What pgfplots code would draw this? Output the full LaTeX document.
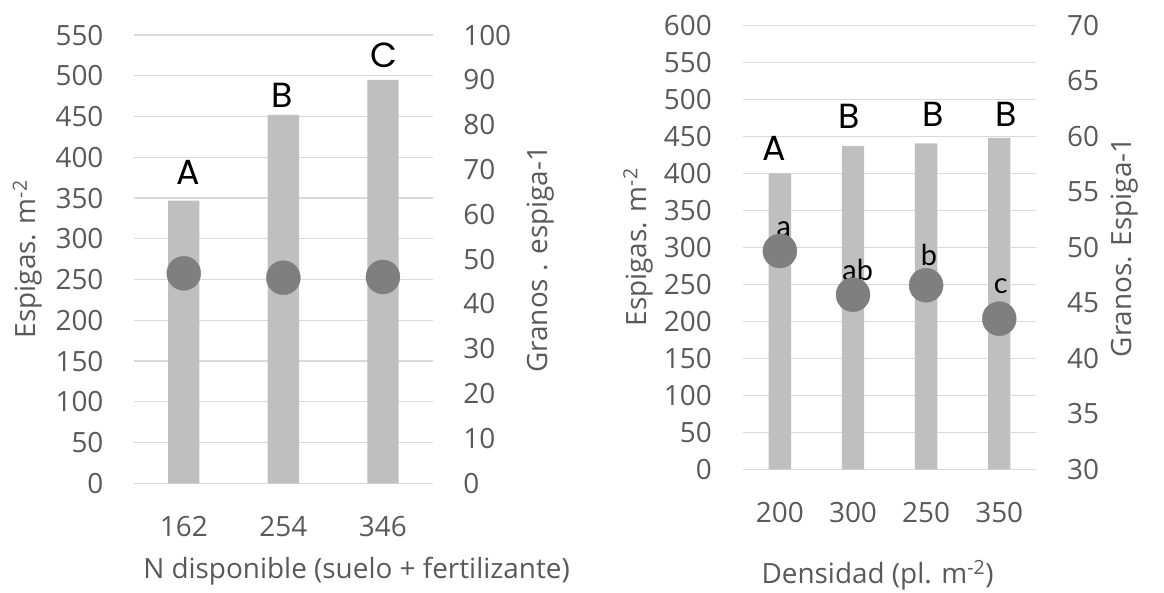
\documentclass[border=0pt]{standalone}
\usepackage{pgfplots}
\pgfplotsset{compat=1.18}
\usepackage{fontspec}
\setmainfont{Open Sans}
\newfontfamily\letf{Poppins}
\newfontfamily\lowf{Lato}
\definecolor{barc}{HTML}{BFBFBF}
\definecolor{dotc}{HTML}{7F7F7F}
\definecolor{gridc}{HTML}{D9D9D9}
\definecolor{txt}{HTML}{595959}
\tikzset{
  upl/.style={font=\letf\fontsize{35}{40}\selectfont, inner sep=0pt, anchor=center},
  lowl/.style={font=\lowf\fontsize{29}{34}\selectfont, inner sep=0pt, anchor=center},
}
\pgfplotsset{
  base/.style={
    scale only axis, anchor=south west, clip=false,
    axis line style={draw=none}, major tick length=0pt,
    tick label style={font=\fontsize{28}{34}\selectfont, text=txt, inner sep=0pt},
    label style={font=\fontsize{28}{34}\selectfont, text=txt},
    /pgf/number format/assume math mode=true,
    /pgf/number format/1000 sep={},
  },
  leftax/.style={base,
    axis y line*=left, axis x line*=bottom,
    ymajorgrids, major grid style={draw=gridc, line width=1.3bp},
  },
  rightax/.style={base,
    axis y line*=right, hide x axis,
  },
}
\begin{document}
\begin{tikzpicture}
\useasboundingbox (0,0) rectangle (1164bp,593bp);
% ---------- Left panel ----------
\begin{axis}[leftax, at={(134bp,109.7bp)}, width=298.7bp, height=448.2bp,
  xmin=-0.5, xmax=2.5, ymin=0, ymax=550, ytick distance=50,
  xtick={0,1,2}, xticklabels={162,254,346},
  yticklabel style={anchor=east, xshift=-30.4bp},
  xticklabel style={anchor=north, yshift=-32.7bp},
  ylabel={Espigas. m\textsuperscript{-2}},
  ylabel style={at={(axis description cs:-0.356,0.5)}, anchor=center},
  xlabel={N disponible (suelo + fertilizante)},
  xlabel style={at={(axis description cs:0.745,-0.1963)}, anchor=center},
]
\addplot[ybar, bar width=31.3bp, fill=barc, draw=none] coordinates {(0,347) (1,452) (2,495)};
\node[upl] at (axis cs:0.046,382) {A};
\node[upl] at (axis cs:0.99,476) {B};
\node[upl] at (axis cs:2.01,525) {C};
\end{axis}
\begin{axis}[rightax, at={(134bp,109.7bp)}, width=298.7bp, height=448.2bp,
  xmin=-0.5, xmax=2.5, ymin=0, ymax=100, ytick distance=10,
  yticklabel style={anchor=west, xshift=30.4bp},
  ylabel={Granos . espiga-1},
  ylabel style={at={(axis description cs:1.3626,0.5)}, anchor=center},
]
\addplot[only marks, mark=*, mark size=17bp, color=dotc, mark options={fill=dotc, draw=dotc}] coordinates {(0,46.85) (1,45.87) (2,46.03)};
\end{axis}
% ---------- Right panel ----------
\begin{axis}[leftax, at={(743.3bp,123.7bp)}, width=292.5bp, height=444bp,
  xmin=-0.5, xmax=3.5, ymin=0, ymax=600, ytick distance=50,
  xtick={0,1,2,3}, xticklabels={200,300,250,350},
  xticklabel style={anchor=north, yshift=-33.1bp},
  yticklabel style={anchor=east, xshift=-31.3bp},
  ylabel={Espigas. m\textsuperscript{-2}},
  ylabel style={at={(axis description cs:-0.3591,0.5)}, anchor=center},
  xlabel={Densidad (pl. m\textsuperscript{-2})},
  xlabel style={at={(axis description cs:0.459,-0.2376)}, anchor=center},
]
\addplot[ybar, bar width=22.3bp, fill=barc, draw=none] coordinates {(0,400) (1,437) (2,440.5) (3,448)};
\node[upl] at (axis cs:-0.08,434) {A};
\node[upl] at (axis cs:0.945,476.5) {B};
\node[upl] at (axis cs:2.09,479) {B};
\node[upl] at (axis cs:3.10,479) {B};
\end{axis}
\begin{axis}[rightax, at={(743.3bp,123.7bp)}, width=292.5bp, height=444bp,
  xmin=-0.5, xmax=3.5, ymin=30, ymax=70, ytick distance=5,
  yticklabel style={anchor=west, xshift=31.2bp},
  ylabel={Granos. Espiga-1},
  ylabel style={at={(axis description cs:1.305,0.5)}, anchor=center},
]
\addplot[only marks, mark=*, mark size=17bp, color=dotc, mark options={fill=dotc, draw=dotc}] coordinates {(0,49.67) (1,45.73) (2,46.58) (3,43.57)};
\node[lowl] at (axis cs:0.055,51.67) {a};
\node[lowl] at (axis cs:1.065,47.95) {ab};
\node[lowl] at (axis cs:2.04,49.35) {b};
\node[lowl] at (axis cs:3.02,46.53) {c};
\end{axis}
\end{tikzpicture}
\end{document}
